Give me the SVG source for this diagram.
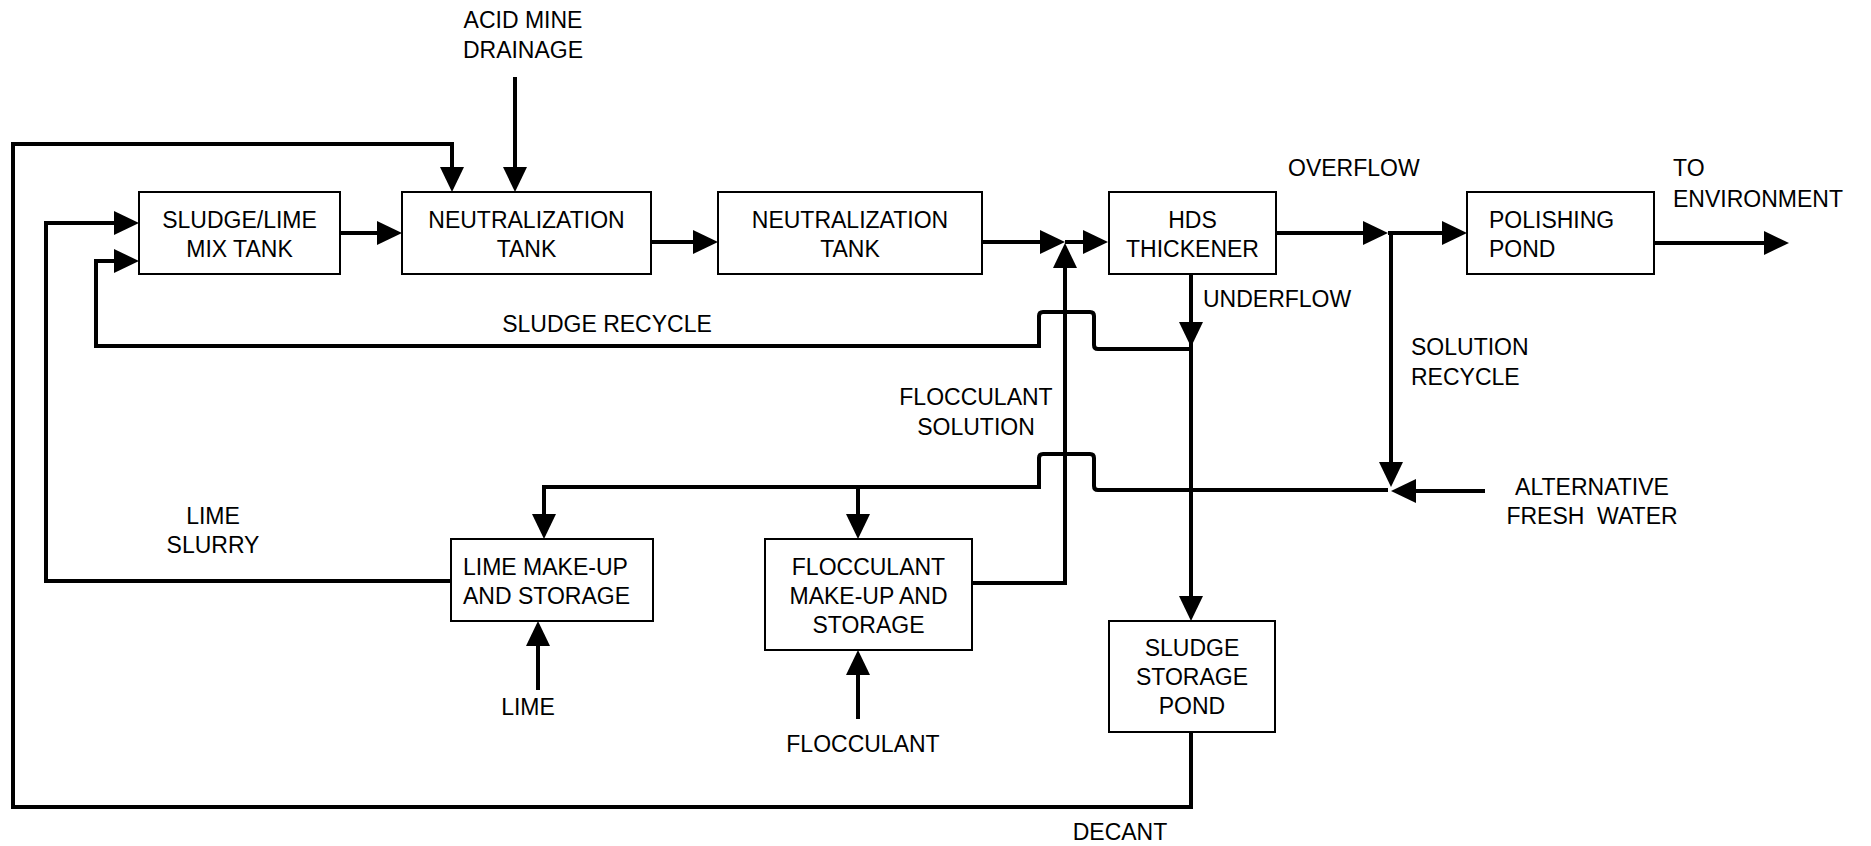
<svg xmlns="http://www.w3.org/2000/svg" width="1871" height="846" viewBox="0 0 1871 846">
  <style>
    .box { fill: #ffffff; stroke: #000000; stroke-width: 2; }
    .flow { fill: none; stroke: #000000; stroke-width: 4; stroke-linejoin: miter; }
    .arrow { marker-end: url(#ah); }
    text { font-family: "Liberation Sans", Arial, sans-serif; font-size: 23px; fill: #000000; }
    .c { text-anchor: middle; }
  </style>
  <defs>
    <marker id="ah" markerUnits="userSpaceOnUse" markerWidth="26" markerHeight="26" refX="21" refY="12" orient="auto" overflow="visible">
      <path d="M0,0 L25,12 L0,24 z" fill="#000000"/>
    </marker>
  </defs>
  <rect width="1871" height="846" fill="#ffffff"/>

  <!-- process streams -->
  <g id="connectors">
    <path class="flow arrow" d="M515,77 V188"/>
    <path class="flow arrow" d="M1191,732 V807 H13 V144 H452 V188"/>
    <path class="flow arrow" d="M340,233 H398"/>
    <path class="flow arrow" d="M651,242 H714"/>
    <path class="flow arrow" d="M982,242 H1061"/>
    <path class="flow arrow" d="M1065,242 H1104"/>
    <path class="flow arrow" d="M972,583 H1065 V247"/>
    <path class="flow arrow" d="M1275,233 H1384"/>
    <path class="flow arrow" d="M1388,233 H1463"/>
    <path class="flow arrow" d="M1654,243 H1785"/>
    <path class="flow arrow" d="M1191,274 V343"/>
    <path class="flow arrow" d="M1191,343 V617"/>
    <path class="flow arrow" d="M1191,349 H1098 Q1094,349 1094,345 V316 Q1094,312 1090,312 H1043 Q1039,312 1039,316 V346 H96 V261 H135"/>
    <path class="flow arrow" d="M451,581 H46 V223 H135"/>
    <path class="flow arrow" d="M1391,233 V483"/>
    <path class="flow arrow" d="M1485,491 H1395"/>
    <path class="flow arrow" d="M1388,490 H1098 Q1094,490 1094,486 V458 Q1094,454 1090,454 H1043 Q1039,454 1039,458 V487 H544 V535"/>
    <path class="flow arrow" d="M858,487 V535"/>
    <path class="flow arrow" d="M538,690 V625"/>
    <path class="flow arrow" d="M858,719 V654"/>
  </g>

  <!-- equipment -->
  <g id="mix-tank">
    <rect class="box" x="139" y="192" width="201" height="82"/>
    <text class="c" x="239.5" y="228">SLUDGE/LIME</text>
    <text class="c" x="239.5" y="257">MIX TANK</text>
  </g>
  <g id="neutralization-1">
    <rect class="box" x="402" y="192" width="249" height="82"/>
    <text class="c" x="526.5" y="228">NEUTRALIZATION</text>
    <text class="c" x="526.5" y="257">TANK</text>
  </g>
  <g id="neutralization-2">
    <rect class="box" x="718" y="192" width="264" height="82"/>
    <text class="c" x="850" y="228">NEUTRALIZATION</text>
    <text class="c" x="850" y="257">TANK</text>
  </g>
  <g id="thickener">
    <rect class="box" x="1109" y="192" width="167" height="82"/>
    <text class="c" x="1192.5" y="228">HDS</text>
    <text class="c" x="1192.5" y="257">THICKENER</text>
  </g>
  <g id="polishing-pond">
    <rect class="box" x="1467" y="192" width="187" height="82"/>
    <text x="1489" y="228">POLISHING</text>
    <text x="1489" y="257">POND</text>
  </g>
  <g id="lime-storage">
    <rect class="box" x="451" y="539" width="202" height="82"/>
    <text x="463" y="575">LIME MAKE-UP</text>
    <text x="463" y="604">AND STORAGE</text>
  </g>
  <g id="flocculant-storage">
    <rect class="box" x="765" y="539" width="207" height="111"/>
    <text class="c" x="868.5" y="575">FLOCCULANT</text>
    <text class="c" x="868.5" y="604">MAKE-UP AND</text>
    <text class="c" x="868.5" y="633">STORAGE</text>
  </g>
  <g id="sludge-pond">
    <rect class="box" x="1109" y="621" width="166" height="111"/>
    <text class="c" x="1192" y="656">SLUDGE</text>
    <text class="c" x="1192" y="685">STORAGE</text>
    <text class="c" x="1192" y="714">POND</text>
  </g>

  <!-- stream labels -->
  <g id="labels">
    <text class="c" x="523" y="28">ACID MINE</text>
    <text class="c" x="523" y="58">DRAINAGE</text>
    <text x="1288" y="176">OVERFLOW</text>
    <text x="1673" y="176">TO</text>
    <text x="1673" y="207">ENVIRONMENT</text>
    <text x="1203" y="307">UNDERFLOW</text>
    <text class="c" x="607" y="332">SLUDGE RECYCLE</text>
    <text x="1411" y="355">SOLUTION</text>
    <text x="1411" y="385">RECYCLE</text>
    <text class="c" x="976" y="405">FLOCCULANT</text>
    <text class="c" x="976" y="435">SOLUTION</text>
    <text class="c" x="1592" y="495">ALTERNATIVE</text>
    <text class="c" x="1592" y="524" xml:space="preserve">FRESH  WATER</text>
    <text class="c" x="213" y="524">LIME</text>
    <text class="c" x="213" y="553">SLURRY</text>
    <text class="c" x="528" y="715">LIME</text>
    <text class="c" x="863" y="752">FLOCCULANT</text>
    <text class="c" x="1120" y="840">DECANT</text>
  </g>
</svg>
